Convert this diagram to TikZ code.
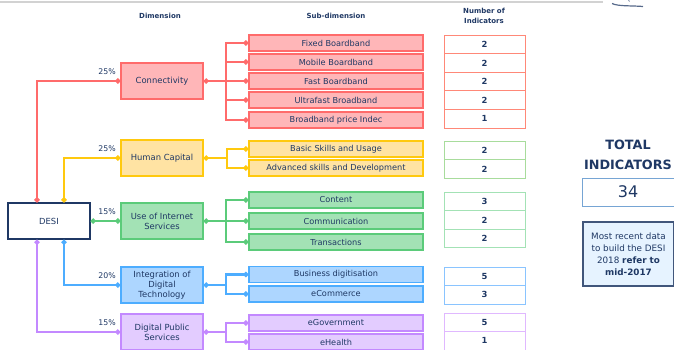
\documentclass[tikz,border=0pt]{standalone}
\usepackage{fontspec}
\setmainfont{DejaVu Sans}
\usetikzlibrary{arrows.meta}
\definecolor{navy}{HTML}{1F3864}
\definecolor{redl}{HTML}{FF6B6B}\definecolor{redf}{HTML}{FFB6B8}\definecolor{redn}{HTML}{FF8878}
\definecolor{yell}{HTML}{FFC90E}\definecolor{yelf}{HTML}{FFE3A3}
\definecolor{grnl}{HTML}{5BCB7A}\definecolor{grnf}{HTML}{A3E2B5}\definecolor{grnn}{HTML}{A8DC9C}
\definecolor{blul}{HTML}{4DADFF}\definecolor{bluf}{HTML}{ADD6FF}\definecolor{blun}{HTML}{8AC4FF}
\definecolor{purl}{HTML}{C389FF}\definecolor{purf}{HTML}{E3CCFF}\definecolor{purn}{HTML}{E0B8FF}
\begin{document}
\begin{tikzpicture}[x=1pt,y=-1pt,
  dimbox/.style={draw, line width=1.4pt, minimum width=82pt, minimum height=36pt, align=center, font=\fontsize{8.4}{10.2}\selectfont, text=navy, inner sep=1pt},
  subbox/.style={draw, line width=1.4pt, minimum width=174pt, minimum height=16pt, font=\fontsize{8.2}{9}\selectfont, text=navy, inner sep=0pt},
  numbox/.style={draw, line width=1pt, minimum width=81pt, minimum height=18.6pt, fill=white, font=\bfseries\fontsize{8.4}{9}\selectfont, text=navy, inner sep=0pt},
  hdr/.style={font=\bfseries\fontsize{7}{9.5}\selectfont, text=navy, align=center},
  pct/.style={font=\fontsize{7.8}{8}\selectfont, text=navy, anchor=east, inner sep=0pt},
  conn/.style={line width=2.2pt, {Circle[length=5pt]}-{Circle[length=5pt]}},
  connA/.style={line width=2.2pt, {Circle[length=5pt]}-},
  connB/.style={line width=2.2pt, -{Circle[length=5pt]}}
]
\useasboundingbox (0,0) rectangle (674,349);
% top line and logo fragment
\draw[line width=1.5pt, color=gray!35] (0,2) -- (603,2);
\draw[line width=1.2pt, color=navy!75] (612,3.5) .. controls (618,6.5) and (632,5.5) .. (643,6.5);
\draw[line width=0.8pt, color=navy!60] (628.5,0) -- (629.5,1.5);

% headers
\node[hdr] (h1) at (160,16) {Dimension};
\node[hdr] (h2) at (336,16) {Sub-dimension};
\node[hdr] (h3) at (484,16) {Number of\\Indicators};

% DESI
\node[draw=navy, line width=1.4pt, fill=white, minimum width=82pt, minimum height=36pt, font=\fontsize{8.4}{10}\selectfont, text=navy] (desi) at (49,221) {DESI};

% dimensions
\node[dimbox, draw=redl, fill=redf] (d1) at (162,81) {Connectivity};
\node[dimbox, draw=yell, fill=yelf] (d2) at (162,158) {Human Capital};
\node[dimbox, draw=grnl, fill=grnf] (d3) at (162,221) {Use of Internet\\Services};
\node[dimbox, draw=blul, fill=bluf] (d4) at (162,285) {Integration of\\Digital\\Technology};
\node[dimbox, draw=purl, fill=purf] (d5) at (162,332) {Digital Public\\Services};

\node[pct] (p1) at (116,72) {25\%};
\node[pct] (p2) at (116,149) {25\%};
\node[pct] (p3) at (116,212) {15\%};
\node[pct] (p4) at (116,276) {20\%};
\node[pct] (p5) at (116,323) {15\%};

% sub-dimensions
\node[subbox, draw=redl, fill=redf] (s11) at (336,43) {Fixed Boardband};
\node[subbox, draw=redl, fill=redf] (s12) at (336,62) {Mobile Boardband};
\node[subbox, draw=redl, fill=redf] (s13) at (336,81) {Fast Boardband};
\node[subbox, draw=redl, fill=redf] (s14) at (336,100) {Ultrafast Broadband};
\node[subbox, draw=redl, fill=redf] (s15) at (336,120) {Broadband price Indec};
\node[subbox, draw=yell, fill=yelf] (s21) at (336,149) {Basic Skills and Usage};
\node[subbox, draw=yell, fill=yelf] (s22) at (336,168) {Advanced skills and Development};
\node[subbox, draw=grnl, fill=grnf] (s31) at (336,200) {Content};
\node[subbox, draw=grnl, fill=grnf] (s32) at (336,221) {Communication};
\node[subbox, draw=grnl, fill=grnf] (s33) at (336,242) {Transactions};
\node[subbox, draw=blul, fill=bluf] (s41) at (336,274.5) {Business digitisation};
\node[subbox, draw=blul, fill=bluf] (s42) at (336,294) {eCommerce};
\node[subbox, draw=purl, fill=purf] (s51) at (336,323) {eGovernment};
\node[subbox, draw=purl, fill=purf] (s52) at (336,342) {eHealth};

% numbers
\node[numbox, draw=redn] (n11) at (484.5,44.3) {2};
\node[numbox, draw=redn] (n12) at (484.5,62.9) {2};
\node[numbox, draw=redn] (n13) at (484.5,81.5) {2};
\node[numbox, draw=redn] (n14) at (484.5,100.1) {2};
\node[numbox, draw=redn] (n15) at (484.5,118.7) {1};
\node[numbox, draw=grnn] (n21) at (484.5,150.3) {2};
\node[numbox, draw=grnn] (n22) at (484.5,168.9) {2};
\node[numbox, draw=grnf] (n31) at (484.5,201.3) {3};
\node[numbox, draw=grnf] (n32) at (484.5,219.9) {2};
\node[numbox, draw=grnf] (n33) at (484.5,238.5) {2};
\node[numbox, draw=blun] (n41) at (484.5,276.3) {5};
\node[numbox, draw=blun] (n42) at (484.5,294.9) {3};
\node[numbox, draw=purn] (n51) at (484.5,322.3) {5};
\node[numbox, draw=purn] (n52) at (484.5,340.9) {1};

% total
\node[font=\bfseries\fontsize{12.8}{19.5}\selectfont, text=navy, align=center, inner sep=0pt] (tot) at (628,155) {TOTAL\\INDICATORS};
\node[draw=blul!60!navy!70, line width=1pt, fill=white, minimum width=92pt, minimum height=28pt, font=\fontsize{16}{18}\selectfont, text=navy, inner sep=0pt] (t34) at (628,192) {34};
\node[draw=navy!85, line width=1.5pt, fill=bluf!30, minimum width=91pt, minimum height=64pt, align=center, font=\fontsize{8.8}{12}\selectfont, text=navy, inner sep=0pt] (note) at (628.5,254) {Most recent data\\to build the DESI\\2018 \textbf{refer to}\\\textbf{mid-2017}};

% DESI connectors
\draw[conn, redl] ([xshift=-12pt]desi.north) |- (d1.west);
\draw[conn, yell] ([xshift=15pt]desi.north) |- (d2.west);
\draw[conn, grnl] (desi.east) -- (d3.west);
\draw[conn, blul] ([xshift=15pt]desi.south) |- (d4.west);
\draw[conn, purl] ([xshift=-12pt]desi.south) |- (d5.west);

% branches
\coordinate (b1) at (226,81);
\coordinate (b2) at (227,158);
\coordinate (b3) at (226,221);
\coordinate (b4) at (226,285);
\coordinate (b5) at (226,332);
\draw[connA, redl] (d1.east) -- (b1);
\foreach \s in {s11,s12,s13,s14,s15} \draw[connB, redl] (b1) |- (\s.west);
\draw[connA, yell] (d2.east) -- (b2);
\foreach \s in {s21,s22} \draw[connB, yell] (b2) |- (\s.west);
\draw[connA, grnl] (d3.east) -- (b3);
\foreach \s in {s31,s32,s33} \draw[connB, grnl] (b3) |- (\s.west);
\draw[connA, blul] (d4.east) -- (b4);
\foreach \s in {s41,s42} \draw[connB, blul] (b4) |- (\s.west);
\draw[connA, purl] (d5.east) -- (b5);
\foreach \s in {s51,s52} \draw[connB, purl] (b5) |- (\s.west);
\end{tikzpicture}
\end{document}
